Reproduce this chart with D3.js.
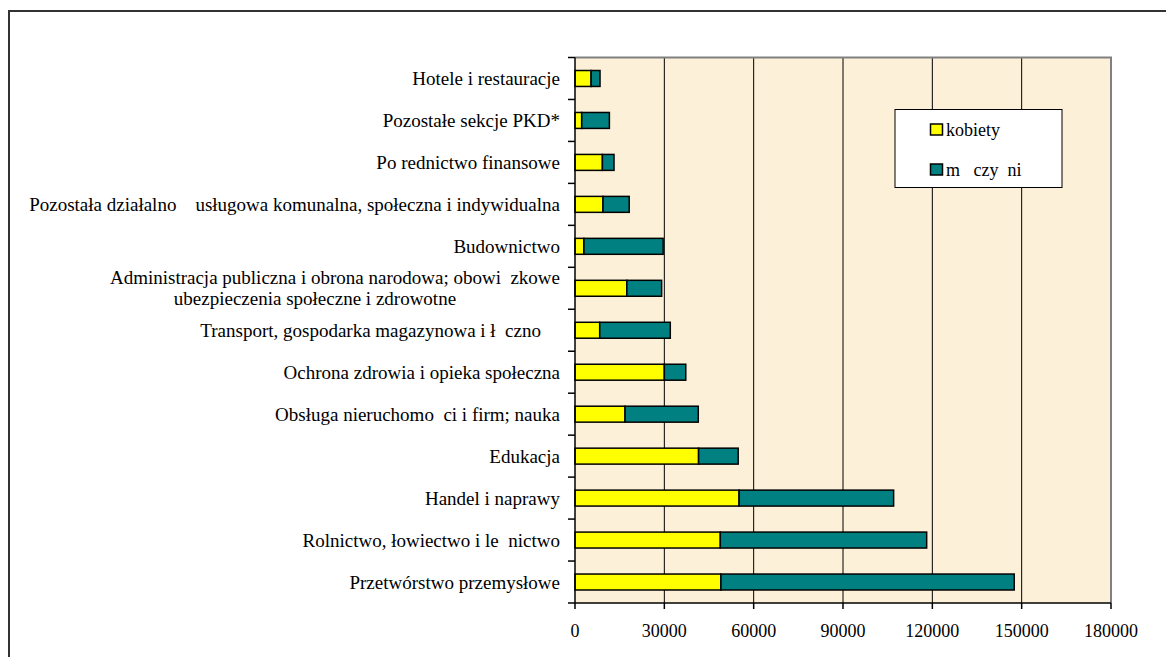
<!DOCTYPE html>
<html><head><meta charset="utf-8">
<script src="https://cdn.jsdelivr.net/npm/d3@7"></script>
<style>
html,body{margin:0;padding:0;background:#fff;}
svg{display:block;}
text{font-family:"Liberation Serif","Times New Roman",serif;fill:#000;white-space:pre;}
</style></head>
<body>
<script>
// Categories (top to bottom); multi-line labels split with "|"
const categories = [
  "Hotele i restauracje",
  "Pozostałe sekcje PKD*",
  "Po rednictwo finansowe",
  "Pozostała działalno    usługowa komunalna, społeczna i indywidualna",
  "Budownictwo",
  "Administracja publiczna i obrona narodowa; obowi  zkowe|ubezpieczenia społeczne i zdrowotne",
  "Transport, gospodarka magazynowa i ł  czno    ",
  "Ochrona zdrowia i opieka społeczna",
  "Obsługa nieruchomo  ci i firm; nauka",
  "Edukacja",
  "Handel i naprawy",
  "Rolnictwo, łowiectwo i le  nictwo",
  "Przetwórstwo przemysłowe"
];
const kobiety =   [5400, 2250, 9200, 9400, 3000, 17400, 8300, 30000, 16800, 41500, 55100, 48800, 49000];
const mezczyzni = [3000, 9300, 3900, 8800, 26600, 11700, 23700, 7200, 24600, 13300, 51900, 69300, 98500];
const seriesNames = ["kobiety", "m   czy  ni"];
const seriesColors = ["#FFFF00", "#008080"];
const xTicks = [0, 30000, 60000, 90000, 120000, 150000, 180000];

const FONT = "Liberation Serif, Times New Roman, serif";
const W = 1166, H = 657;
const svg = d3.select("body").append("svg").attr("width", W).attr("height", H)
  .attr("font-family", FONT);

// outer chart border
svg.append("rect").attr("x", 9).attr("y", 11).attr("width", 1300).attr("height", 800)
  .attr("fill", "#fff").attr("stroke", "#333").attr("stroke-width", 2);

const plot = {left: 575, right: 1111, top: 57.5, bottom: 603};

const x = d3.scaleLinear().domain([0, 180000]).range([plot.left, plot.right]);
const y = d3.scaleBand().domain(categories).range([plot.top, plot.bottom]).paddingInner(0.62).paddingOuter(0.31);
const yb = d3.scaleBand().domain(categories).range([plot.top, plot.bottom]);

// plot background
svg.append("rect").attr("x", plot.left).attr("y", plot.top)
  .attr("width", plot.right - plot.left).attr("height", plot.bottom - plot.top)
  .attr("fill", "#FDF0D8");

// gridlines
svg.append("g").selectAll("line").data(xTicks.filter(t => t > 0 && t < 180000)).join("line")
  .attr("x1", d => x(d)).attr("x2", d => x(d))
  .attr("y1", plot.top).attr("y2", plot.bottom)
  .attr("stroke", "#000").attr("stroke-width", 1);

// plot border (top & right gray)
svg.append("path")
  .attr("d", `M${plot.left},${plot.top}H${plot.right}V${plot.bottom}`)
  .attr("fill", "none").attr("stroke", "#808080").attr("stroke-width", 2);

// stacked bars
const stackData = categories.map((c, i) => ({cat: c, k: kobiety[i], m: mezczyzni[i]}));
const stack = d3.stack().keys(["k", "m"])(stackData);
svg.append("g").selectAll("g").data(stack).join("g")
  .attr("fill", (d, i) => seriesColors[i])
  .selectAll("rect").data(d => d).join("rect")
  .attr("x", d => x(d[0])).attr("width", d => x(d[1]) - x(d[0]))
  .attr("y", d => y(d.data.cat)).attr("height", y.bandwidth())
  .attr("stroke", "#000").attr("stroke-width", 1.5);

// y axis
const yAxis = svg.append("g");
yAxis.append("line").attr("x1", plot.left).attr("x2", plot.left)
  .attr("y1", plot.top).attr("y2", plot.bottom).attr("stroke", "#000").attr("stroke-width", 1.5);
const bounds = categories.map(c => yb(c)).concat([plot.bottom]);
yAxis.selectAll("line.t").data(bounds).join("line").attr("class", "t")
  .attr("x1", plot.left - 7).attr("x2", plot.left).attr("y1", d => d).attr("y2", d => d)
  .attr("stroke", "#000").attr("stroke-width", 1.5);

// category labels
const labX = 560, LFS = 19;
categories.forEach(c => {
  const lines = c.split("|");
  const cy = yb(c) + yb.bandwidth() / 2;
  if (lines.length === 1) {
    svg.append("text").attr("x", labX).attr("y", cy).attr("dy", "0.35em")
      .attr("text-anchor", "end").attr("font-size", LFS).text(lines[0]);
  } else {
    const t1 = svg.append("text").attr("x", labX).attr("y", cy - 10.5).attr("dy", "0.35em")
      .attr("text-anchor", "end").attr("font-size", LFS).text(lines[0]);
    const w1 = t1.node().getComputedTextLength();
    svg.append("text").attr("x", labX - w1 / 2 - 20).attr("y", cy + 10.5).attr("dy", "0.35em")
      .attr("text-anchor", "middle").attr("font-size", LFS).text(lines[1]);
  }
});

// x axis
const xAxis = svg.append("g");
xAxis.append("line").attr("x1", plot.left).attr("x2", plot.right)
  .attr("y1", plot.bottom).attr("y2", plot.bottom).attr("stroke", "#000").attr("stroke-width", 1.5);
xAxis.selectAll("line.t").data(xTicks).join("line").attr("class", "t")
  .attr("x1", d => x(d)).attr("x2", d => x(d)).attr("y1", plot.bottom).attr("y2", plot.bottom + 6)
  .attr("stroke", "#000").attr("stroke-width", 1.5);
xAxis.selectAll("text").data(xTicks).join("text")
  .attr("x", d => x(d)).attr("y", 637).attr("text-anchor", "middle").attr("font-size", 18)
  .text(d => String(d));

// legend
const lg = svg.append("g");
lg.append("rect").attr("x", 895).attr("y", 109.5).attr("width", 167).attr("height", 78)
  .attr("fill", "#fff").attr("stroke", "#000").attr("stroke-width", 1);
seriesNames.forEach((n, i) => {
  const yy = 124 + i * 40;
  lg.append("rect").attr("x", 930.5).attr("y", yy).attr("width", 12).attr("height", 11)
    .attr("fill", seriesColors[i]).attr("stroke", "#000").attr("stroke-width", 1.5);
  lg.append("text").attr("x", 946).attr("y", yy + 12).attr("font-size", 18).text(n);
});
</script>
</body></html>
